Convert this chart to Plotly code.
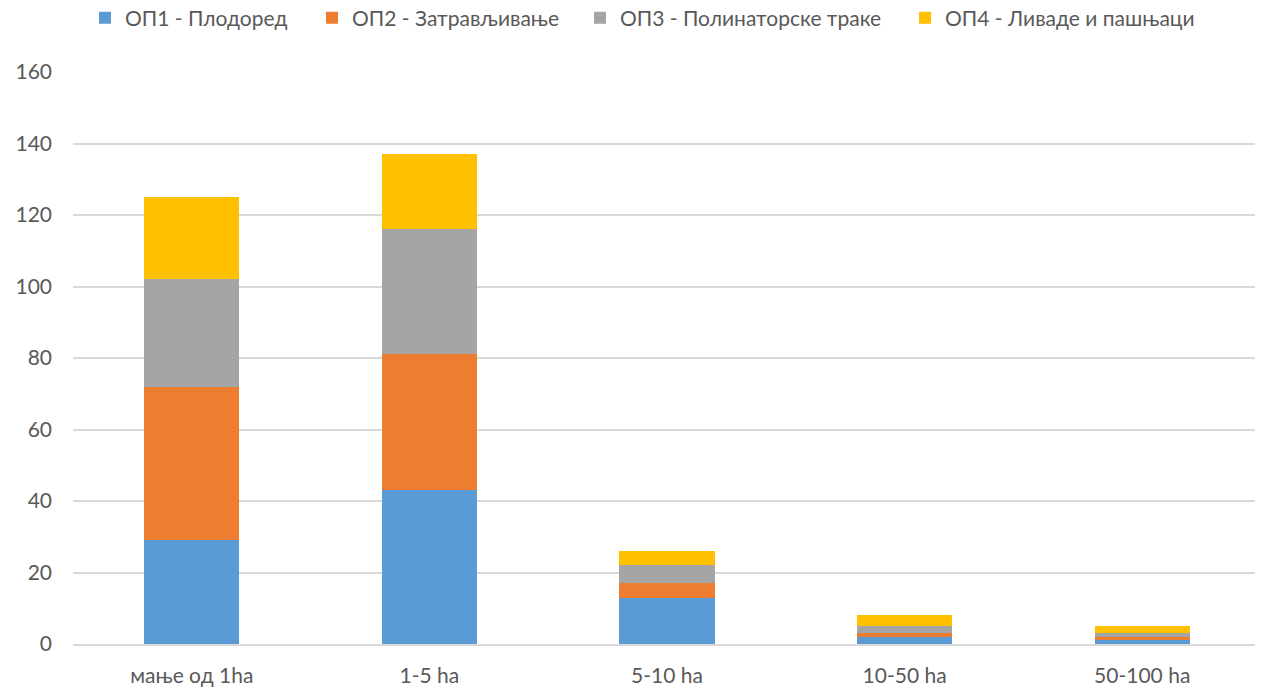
import plotly.graph_objects as go

categories = ["мање од 1ha", "1-5 ha", "5-10 ha", "10-50 ha", "50-100 ha"]
series_names = ["ОП1 - Плодоред", "ОП2 - Затрављивање", "ОП3 - Полинаторске траке", "ОП4 - Ливаде и пашњаци"]
op1 = [29, 43, 13, 2, 1]
op2 = [43, 38, 4, 1, 1]
op3 = [30, 35, 5, 2, 1]
op4 = [23, 21, 4, 3, 2]
y_ticks = [0, 20, 40, 60, 80, 100, 120, 140, 160]

colors = ["#5B9BD5", "#ED7D31", "#A5A5A5", "#FFC000"]
values = [op1, op2, op3, op4]
legend_left = [92, 319, 587, 912]  # marker left edges in px (figure coords)

FONT = "Lato, 'Open Sans', sans-serif"
W, H = 1255, 679

fig = go.Figure()
legend_ids = ["legend", "legend2", "legend3", "legend4"]
for name, vals, col, lid in zip(series_names, values, colors, legend_ids):
    fig.add_trace(go.Bar(name=name, x=categories, y=vals, legend=lid,
                         marker=dict(color=col, line=dict(width=0))))

layout_legends = {}
for lid, lx in zip(legend_ids, legend_left):
    layout_legends[lid] = dict(orientation="h", x=(lx - 15) / W, xanchor="left", xref="container",
                               y=1 - 10 / H, yanchor="middle", yref="container",
                               font=dict(size=21, color="#595959"), itemwidth=30,
                               bgcolor="rgba(0,0,0,0)")

fig.update_layout(
    barmode="stack",
    bargap=0.6,
    width=W, height=H,
    paper_bgcolor="white", plot_bgcolor="white",
    margin=dict(l=65, r=2, t=64, b=43, autoexpand=False),
    font=dict(family=FONT, size=21, color="#595959"),
    showlegend=True,
    **layout_legends,
)
fig.update_yaxes(range=[0, 160], tickvals=y_ticks, showgrid=True, gridcolor="#D9D9D9", gridwidth=1.5,
                 zeroline=False, showline=False, ticks="", ticklabelstandoff=20, automargin=False,
                 tickfont=dict(size=21, color="#595959"))
fig.update_xaxes(showline=True, linecolor="#D9D9D9", linewidth=1.5, ticks="", ticklabelstandoff=12,
                 automargin=False, tickfont=dict(size=21, color="#595959"))

fig.write_html("out.html")
